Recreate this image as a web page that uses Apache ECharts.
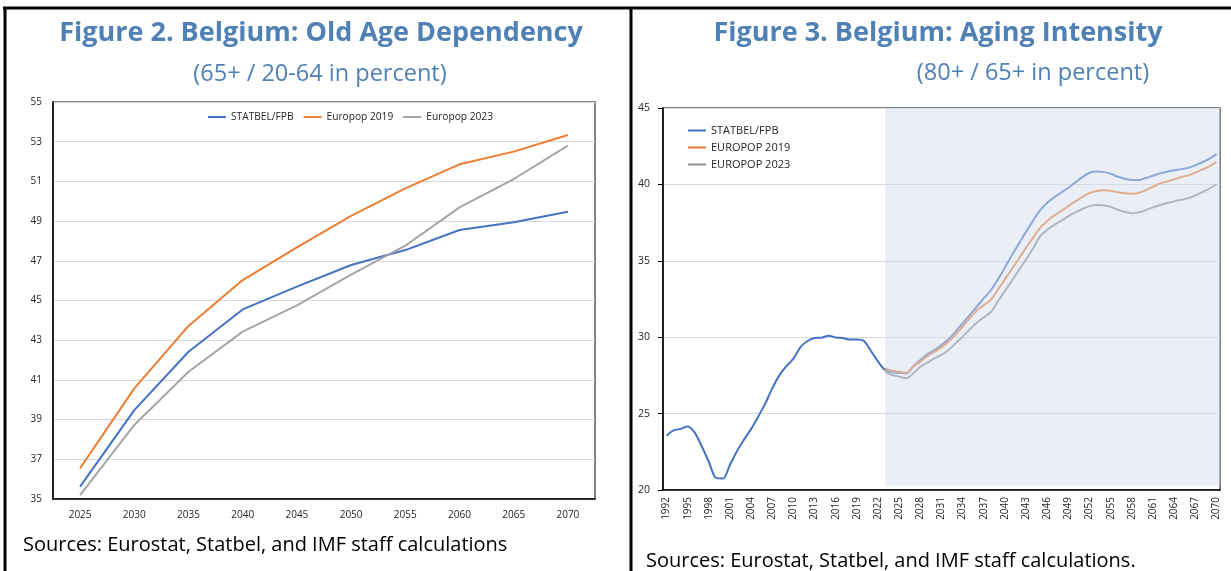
<!DOCTYPE html>
<html>
<head>
<meta charset="utf-8">
<script src="https://cdn.jsdelivr.net/npm/echarts@6/dist/echarts.min.js"></script>
<style>
  html, body { margin: 0; padding: 0; background: #fff; }
  #main { width: 1231px; height: 571px; }
</style>
</head>
<body>
<div id="main"></div>
<script>
// Figure 2 data (65+ / 20-64)
var depYears = ['2025', '2030', '2035', '2040', '2045', '2050', '2055', '2060', '2065', '2070'];
var depStatbel = [35.62, 39.48, 42.42, 44.55, 45.7, 46.79, 47.54, 48.55, 48.94, 49.47];
var depEuropop2019 = [36.55, 40.57, 43.72, 46.03, 47.68, 49.26, 50.65, 51.86, 52.5, 53.34];
var depEuropop2023 = [35.2, 38.73, 41.41, 43.43, 44.75, 46.3, 47.76, 49.69, 51.12, 52.8];

// Figure 3 data (80+ / 65+), 1992-2070
var ageYears = [];
for (var y = 1992; y <= 2070; y++) ageYears.push(String(y));
var ageStatbel = [
  23.55, 23.9, 24.0, 24.15, 23.75, 22.85, 21.85, 20.8, 20.75, 21.65,
  22.55, 23.3, 24.0, 24.8, 25.65, 26.65, 27.5, 28.1, 28.6, 29.35,
  29.75, 29.95, 29.97, 30.1, 29.98, 29.95, 29.85, 29.85, 29.75, 29.1,
  28.4, 27.85, 27.7, 27.67, 27.63, 28.1, 28.5, 28.9, 29.16, 29.49,
  29.86, 30.36, 30.91, 31.45, 32.0, 32.55, 33.07, 33.77, 34.56, 35.38,
  36.14, 36.91, 37.64, 38.32, 38.8, 39.17, 39.47, 39.78, 40.14, 40.48,
  40.76, 40.84, 40.82, 40.7, 40.5, 40.37, 40.29, 40.29, 40.42, 40.57,
  40.72, 40.83, 40.92, 41.0, 41.08, 41.25, 41.45, 41.68, 41.98
];
// projections start in 2023 (shaded period)
var projStart = '2023';
var ageEuropop2019 = [
  27.96, 27.8, 27.74, 27.67, 28.07, 28.4, 28.77, 29.05, 29.34, 29.7,
  30.18, 30.69, 31.24, 31.75, 32.1, 32.45, 33.11, 33.8, 34.48, 35.17,
  35.86, 36.51, 37.15, 37.6, 37.97, 38.27, 38.58, 38.89, 39.18, 39.44,
  39.57, 39.62, 39.58, 39.48, 39.42, 39.39, 39.45, 39.63, 39.84, 40.07,
  40.19, 40.33, 40.48, 40.59, 40.77, 40.97, 41.18, 41.47
];
var ageEuropop2023 = [
  27.74, 27.53, 27.42, 27.31, 27.63, 28.07, 28.33, 28.62, 28.84, 29.16,
  29.6, 30.03, 30.51, 30.95, 31.3, 31.65, 32.35, 33.03, 33.72, 34.41,
  35.1, 35.82, 36.62, 37.03, 37.35, 37.62, 37.93, 38.17, 38.39, 38.58,
  38.66, 38.64, 38.53, 38.34, 38.2, 38.12, 38.17, 38.32, 38.5, 38.65,
  38.78, 38.89, 38.99, 39.1, 39.28, 39.49, 39.72, 40.01
];

function padProjection(arr) {
  var start = ageYears.indexOf(projStart);
  var out = [];
  for (var i = 0; i < ageYears.length; i++) {
    out.push(i < start ? null : arr[i - start]);
  }
  return out;
}

var font = '"Open Sans", sans-serif';
var titleColor = '#4f81b4';
var labelColor = '#262626';

var myChart = echarts.init(document.getElementById('main'));

var option = {
  animation: false,
  textStyle: { fontFamily: font },
  grid: [
    { left: 53, top: 102, width: 542, height: 397, show: true, borderColor: '#595959', borderWidth: 1.5 },
    { left: 663, top: 108, width: 557, height: 382, show: true, borderColor: '#595959', borderWidth: 1.5 }
  ],
  legend: [
    {
      data: ['STATBEL/FPB', 'Europop 2019', 'Europop 2023'],
      left: 208, top: 112, padding: 0,
      icon: 'rect', itemWidth: 18, itemHeight: 2, itemGap: 10,
      textStyle: { fontSize: 10.2, color: labelColor, fontFamily: font }
    },
    {
      data: ['STATBEL/FPB', 'EUROPOP 2019', 'EUROPOP 2023'],
      orient: 'vertical',
      left: 688, top: 125, padding: 0,
      icon: 'rect', itemWidth: 18, itemHeight: 2, itemGap: 6,
      textStyle: { fontSize: 11, color: labelColor, fontFamily: font }
    }
  ],
  xAxis: [
    {
      gridIndex: 0, type: 'category', data: depYears,
      axisLine: { lineStyle: { color: '#000', width: 1.5 } },
      axisTick: { show: false },
      axisLabel: { color: labelColor, fontSize: 10, margin: 11 }
    },
    {
      gridIndex: 1, type: 'category', data: ageYears,
      axisLine: { lineStyle: { color: '#000', width: 1.5 } },
      axisTick: { show: false },
      axisLabel: { color: labelColor, fontSize: 10, interval: 2, rotate: 90, margin: 7 }
    },
    {
      // hidden helper axis so the shaded period reaches the plot edge
      gridIndex: 1, type: 'value', min: 1991.5, max: 2070.5, show: false
    }
  ],
  yAxis: [
    {
      gridIndex: 0, type: 'value', min: 35, max: 55, interval: 2,
      axisLine: { show: true, lineStyle: { color: '#000', width: 1.5 } },
      splitLine: { lineStyle: { color: '#d9d9d9', width: 1.2 } },
      axisLabel: { color: labelColor, fontSize: 10, margin: 11 }
    },
    {
      gridIndex: 1, type: 'value', min: 20, max: 45, interval: 5,
      axisLine: { show: true, lineStyle: { color: '#000', width: 1.5 } },
      splitLine: { lineStyle: { color: '#d9d9d9', width: 1.2 } },
      axisLabel: { color: labelColor, fontSize: 10.5, margin: 13 }
    }
  ],
  series: [
    {
      name: 'STATBEL/FPB', type: 'line', xAxisIndex: 0, yAxisIndex: 0,
      data: depStatbel, showSymbol: false, color: '#4472C4', lineStyle: { width: 2 }
    },
    {
      name: 'Europop 2019', type: 'line', xAxisIndex: 0, yAxisIndex: 0,
      data: depEuropop2019, showSymbol: false, color: '#ED7D31', lineStyle: { width: 2 }
    },
    {
      name: 'Europop 2023', type: 'line', xAxisIndex: 0, yAxisIndex: 0,
      data: depEuropop2023, showSymbol: false, color: '#A5A5A5', lineStyle: { width: 2 }
    },
    {
      name: 'STATBEL/FPB', type: 'line', xAxisIndex: 1, yAxisIndex: 1,
      data: ageStatbel, showSymbol: false, smooth: 0.3, color: '#4472C4', lineStyle: { width: 2 }
    },
    {
      name: 'EUROPOP 2019', type: 'line', xAxisIndex: 1, yAxisIndex: 1,
      data: padProjection(ageEuropop2019), showSymbol: false, smooth: 0.3, color: '#ED7D31', lineStyle: { width: 2 }
    },
    {
      name: 'EUROPOP 2023', type: 'line', xAxisIndex: 1, yAxisIndex: 1,
      data: padProjection(ageEuropop2023), showSymbol: false, smooth: 0.3, color: '#8f8f8f', lineStyle: { width: 2 }
    },
    {
      name: 'projection', type: 'line', xAxisIndex: 2, yAxisIndex: 1, data: [],
      markArea: {
        silent: true, z: 4,
        itemStyle: { color: 'rgba(214,222,238,0.5)' },
        data: [[{ xAxis: Number(projStart), yAxis: 20.3 }, { xAxis: 2070.5, yAxis: 45 }]]
      }
    }
  ],
  graphic: [
    { type: 'line', shape: { x1: 3, y1: 8, x2: 1231, y2: 8 }, style: { stroke: '#000', lineWidth: 3 } },
    { type: 'line', shape: { x1: 5, y1: 8, x2: 5, y2: 571 }, style: { stroke: '#000', lineWidth: 3 } },
    { type: 'line', shape: { x1: 631, y1: 8, x2: 631, y2: 571 }, style: { stroke: '#000', lineWidth: 3 } },
    { type: 'text', x: 321, y: 33, style: { text: 'Figure 2. Belgium: Old Age Dependency', fill: titleColor, font: 'bold 27px ' + font, align: 'center', verticalAlign: 'middle' } },
    { type: 'text', x: 320, y: 74, style: { text: '(65+ / 20-64 in percent)', fill: titleColor, font: '23.5px ' + font, align: 'center', verticalAlign: 'middle' } },
    { type: 'text', x: 938, y: 33, style: { text: 'Figure 3. Belgium: Aging Intensity', fill: titleColor, font: 'bold 27px ' + font, align: 'center', verticalAlign: 'middle' } },
    { type: 'text', x: 1033, y: 73, style: { text: '(80+ / 65+ in percent)', fill: titleColor, font: '23.5px ' + font, align: 'center', verticalAlign: 'middle' } },
    { type: 'text', x: 23, y: 545, style: { text: 'Sources: Eurostat, Statbel, and IMF staff calculations', fill: '#000', font: '20px ' + font, align: 'left', verticalAlign: 'middle' } },
    { type: 'text', x: 646, y: 561, style: { text: 'Sources: Eurostat, Statbel, and IMF staff calculations.', fill: '#000', font: '20px ' + font, align: 'left', verticalAlign: 'middle' } }
  ]
};

myChart.setOption(option);
</script>
</body>
</html>
